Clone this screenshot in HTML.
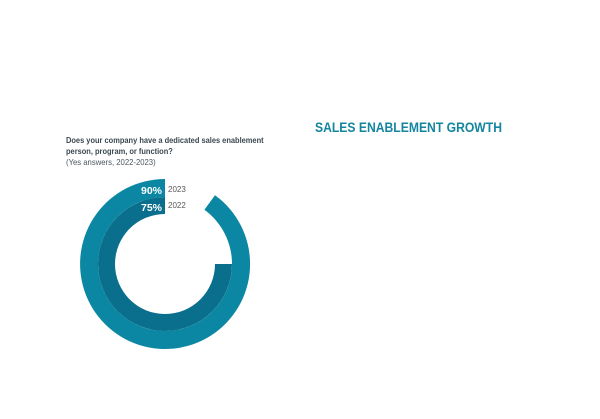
<!DOCTYPE html>
<html><head><meta charset="utf-8"><style>
body{margin:0;width:600px;height:419px;background:#fff;position:relative;overflow:hidden;font-family:"Liberation Sans",sans-serif}
.t{position:absolute;left:315px;top:120px;font-size:13.5px;font-weight:bold;color:#13859f;white-space:nowrap;transform:scaleX(0.9);transform-origin:left top}
.q{position:absolute;left:66px;top:135px;font-size:8.4px;font-weight:bold;color:#3a4750;line-height:11px;white-space:nowrap;transform:scaleX(0.89);transform-origin:left top}
.s{position:absolute;left:66px;top:157px;font-size:8.4px;color:#4a5660;transform:scaleX(0.92);transform-origin:left top;white-space:nowrap}
</style></head><body>
<div class="t">SALES ENABLEMENT GROWTH</div>
<div class="q">Does your company have a dedicated sales enablement<br>person, program, or function?</div>
<div class="s">(Yes answers, 2022-2023)</div>
<svg width="600" height="419" style="position:absolute;left:0;top:0">
<path d="M165 179 A85 85 0 1 0 215 195.2 L204.4 209.8 A67 67 0 1 1 165 197 Z" fill="#0b87a3"/>
<path d="M165 197 A67 67 0 1 0 232 264 L215 264 A50 50 0 1 1 165 214 Z" fill="#0a6f8d"/>
<text x="162" y="194" text-anchor="end" font-family="Liberation Sans" font-weight="bold" font-size="10.5" fill="#fff">90%</text>
<text x="162" y="211" text-anchor="end" font-family="Liberation Sans" font-weight="bold" font-size="10.5" fill="#fff">75%</text>
<text x="168" y="192" font-family="Liberation Sans" font-size="8" fill="#555">2023</text>
<text x="168" y="208" font-family="Liberation Sans" font-size="8" fill="#555">2022</text>
</svg>
</body></html>
